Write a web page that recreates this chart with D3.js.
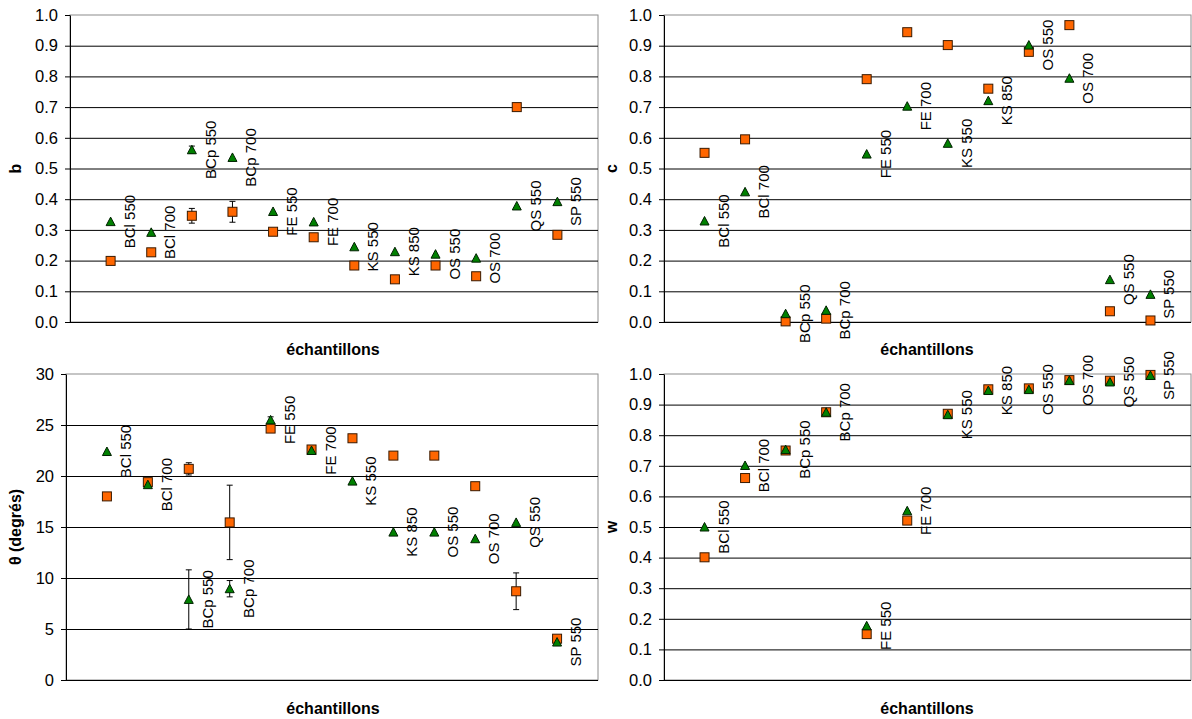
<!DOCTYPE html>
<html><head><meta charset="utf-8">
<script src="https://cdn.jsdelivr.net/npm/d3@7"></script>
<style>
html,body{margin:0;padding:0;background:#fff;}
svg{display:block;font-family:"Liberation Sans",Arial,sans-serif;}
</style></head>
<body>
<svg id="chart" width="1192" height="719"></svg>
<script>
const samples = ["BCl 550","BCl 700","BCp 550","BCp 700","FE 550","FE 700","KS 550","KS 850","OS 550","OS 700","QS 550","SP 550"];

// panel b
const bSquare = [0.199,0.227,0.346,0.359,0.294,0.276,0.184,0.139,0.184,0.149,0.700,0.284];
const bSquareErr = [0,0,0.024,0.034,0,0,0,0,0,0,0,0];
const bTriangle = [0.327,0.292,0.561,0.536,0.360,0.326,0.245,0.229,0.221,0.208,0.378,0.392];
const bTriangleErr = [0,0,0.012,0,0,0,0,0,0,0,0,0];

// panel c
const cSquare = [0.551,0.595,0.002,0.011,0.791,0.944,0.902,0.760,0.880,0.967,0.035,0.005];
const cTriangle = [0.329,0.424,0.027,0.038,0.547,0.703,0.582,0.721,0.902,0.794,0.138,0.090];

// panel theta
const tSquare = [18.0,19.4,20.7,15.45,24.65,22.6,23.7,22.0,22.0,19.0,8.7,4.05];
const tSquareErr = [0,0,0.6,3.65,0,0,0,0,0,0,1.8,0];
const tTriangle = [22.4,19.15,7.9,8.95,25.5,22.5,19.5,14.5,14.5,13.85,15.45,3.72];
const tTriangleErr = [0,0,2.9,0.8,0.3,0,0,0,0,0,0,0];

// panel w
const wSquare = [0.401,0.660,0.750,0.875,0.150,0.521,0.870,0.950,0.953,0.980,0.978,0.997];
const wTriangle = [0.500,0.701,0.753,0.875,0.177,0.553,0.867,0.946,0.949,0.979,0.974,0.995];

const ticksUnit = [0,0.1,0.2,0.3,0.4,0.5,0.6,0.7,0.8,0.9,1.0];
const ticksTheta = [0,5,10,15,20,25,30];

const xTitle = "échantillons";

const panels = [
  {x0:70, x1:598, y0:15, y1:322, ymax:1, ticks:ticksUnit, fmt:d3.format(".1f"), title:"b", tx:15,
   sq:bSquare, sqErr:bSquareErr, tri:bTriangle, triErr:bTriangleErr, xt:333, xty:355},
  {x0:664, x1:1191, y0:15, y1:322, ymax:1, ticks:ticksUnit, fmt:d3.format(".1f"), title:"c", tx:611,
   sq:cSquare, sqErr:null, tri:cTriangle, triErr:null, xt:927, xty:355},
  {x0:66, x1:598, y0:374, y1:680, ymax:30, ticks:ticksTheta, fmt:d3.format("d"), title:"θ (degrés)", tx:15,
   sq:tSquare, sqErr:tSquareErr, tri:tTriangle, triErr:tTriangleErr, xt:333, xty:714},
  {x0:664, x1:1191, y0:374, y1:680, ymax:1, ticks:ticksUnit, fmt:d3.format(".1f"), title:"w", tx:611,
   sq:wSquare, sqErr:null, tri:wTriangle, triErr:null, xt:927, xty:714}
];

const svg = d3.select("#chart");

panels.forEach(p => {
  const g = svg.append("g");
  const x = d3.scaleLinear().domain([0, samples.length + 1]).range([p.x0, p.x1]);
  const y = d3.scaleLinear().domain([0, p.ymax]).range([p.y1, p.y0]);

  // plot border
  g.append("rect").attr("x", p.x0).attr("y", p.y0)
    .attr("width", p.x1 - p.x0).attr("height", p.y1 - p.y0)
    .attr("fill", "none").attr("stroke", "#8c8c8c").attr("stroke-width", 1);

  // gridlines
  const grid = g.append("g").attr("transform", `translate(${p.x0},0)`)
    .call(d3.axisLeft(y).tickValues(p.ticks.filter(t => t !== p.ymax)).tickSizeInner(-(p.x1 - p.x0)).tickSizeOuter(0).tickFormat(""));
  grid.select(".domain").remove();
  grid.selectAll("line").attr("stroke", "#000").attr("stroke-width", 1);

  // axis with outward ticks and labels
  const ax = g.append("g").attr("transform", `translate(${p.x0},0)`)
    .call(d3.axisLeft(y).tickValues(p.ticks).tickSizeInner(5).tickSizeOuter(0).tickPadding(7).tickFormat(p.fmt));
  ax.attr("font-size", null).attr("font-family", null);
  ax.select(".domain").attr("stroke", "#000");
  ax.selectAll("line").attr("stroke", "#000");
  ax.selectAll("text").style("font-size", "16.5px").attr("fill", "#000")
    .style("font-family", '"Liberation Sans",Arial,sans-serif');

  // y title
  g.append("text").attr("transform", `translate(${p.tx},${(p.y0 + p.y1) / 2}) rotate(-90)`)
    .attr("text-anchor", "middle").attr("dominant-baseline", "central")
    .attr("font-size", 16).attr("font-weight", "bold").text(p.title);

  // x title
  g.append("text").attr("x", p.xt).attr("y", p.xty).attr("text-anchor", "middle")
    .attr("font-size", 16).attr("font-weight", "bold").text(xTitle);

  // error bars
  function errBars(vals, errs) {
    if (!errs) return;
    const idx = d3.range(vals.length).filter(i => errs[i] > 0);
    const eg = g.append("g").attr("stroke", "#000").attr("stroke-width", 1);
    idx.forEach(i => {
      const cx = x(i + 1);
      const yt = y(vals[i] + errs[i]), yb = y(vals[i] - errs[i]);
      eg.append("line").attr("x1", cx).attr("x2", cx).attr("y1", yt).attr("y2", yb);
      eg.append("line").attr("x1", cx - 3).attr("x2", cx + 3).attr("y1", yt).attr("y2", yt);
      eg.append("line").attr("x1", cx - 3).attr("x2", cx + 3).attr("y1", yb).attr("y2", yb);
    });
  }
  errBars(p.sq, p.sqErr);
  errBars(p.tri, p.triErr);

  // squares
  g.append("g").selectAll("rect").data(p.sq).join("rect")
    .attr("x", (d, i) => x(i + 1) - 4.5).attr("y", d => y(d) - 4.5)
    .attr("width", 9).attr("height", 9)
    .attr("fill", "#ff6600").attr("stroke", "#3a1a00").attr("stroke-width", 1);

  // triangles
  g.append("g").selectAll("path").data(p.tri).join("path")
    .attr("d", (d, i) => {
      const cx = x(i + 1), cy = y(d);
      return `M${cx},${cy - 4.5}L${cx + 4.5},${cy + 4}L${cx - 4.5},${cy + 4}Z`;
    })
    .attr("fill", "#008000").attr("stroke", "#002000").attr("stroke-width", 1);

  // sample labels
  g.append("g").selectAll("text").data(p.tri).join("text")
    .attr("transform", (d, i) => `translate(${x(i + 1) + 24},${y(d)}) rotate(-90)`)
    .attr("text-anchor", "middle").attr("font-size", 15).attr("fill", "#000")
    .text((d, i) => samples[i]);
});
</script>
</body></html>
